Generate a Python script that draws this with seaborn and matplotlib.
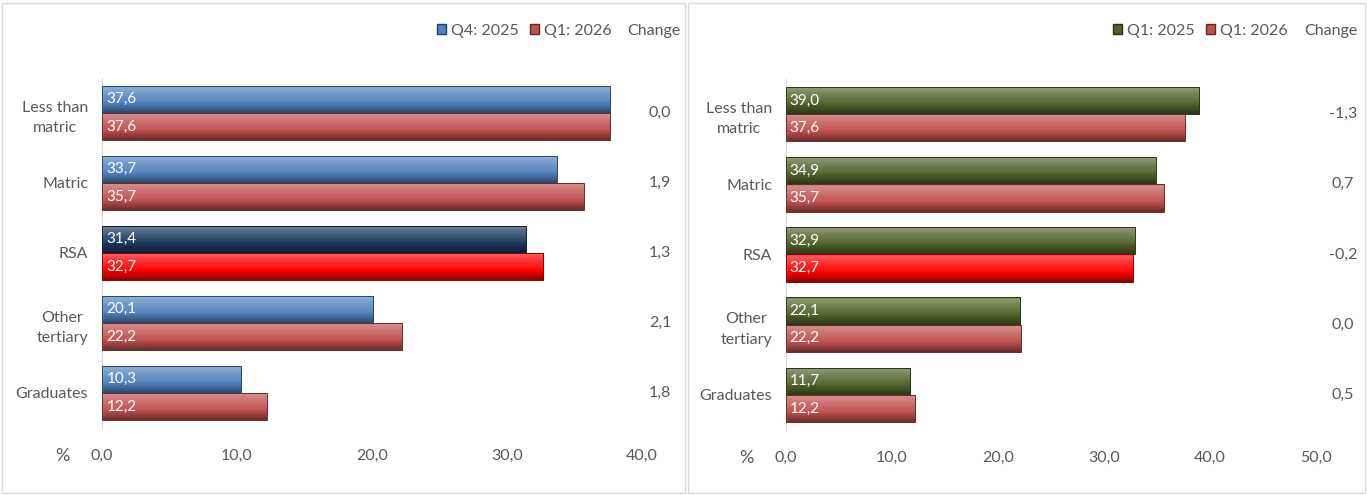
import numpy as np
import pandas as pd
import matplotlib
matplotlib.use("Agg")
import matplotlib.pyplot as plt
import matplotlib.colors as mcolors
from matplotlib.patches import Rectangle, Patch
import seaborn as sns

categories = ["Less than\nmatric", "Matric", "RSA", "Other\ntertiary", "Graduates"]
left_series = ["Q4: 2025", "Q1: 2026"]
left_prev = [37.6, 33.7, 31.4, 20.1, 10.3]
left_curr = [37.6, 35.7, 32.7, 22.2, 12.2]
left_change = ["0,0", "1,9", "1,3", "2,1", "1,8"]
left_ticks = [0, 10, 20, 30, 40]

right_series = ["Q1: 2025", "Q1: 2026"]
right_prev = [39.0, 34.9, 32.9, 22.1, 11.7]
right_curr = [37.6, 35.7, 32.7, 22.2, 12.2]
right_change = ["-1,3", "0,7", "-0,2", "0,0", "0,5"]
right_ticks = [0, 10, 20, 30, 40, 50]

sns.set_theme(style="white")
FONT = ["Lato", "DejaVu Sans"]
plt.rcParams["font.family"] = FONT
GREY = "#595959"

fig = plt.figure(figsize=(13.67, 4.95), dpi=100)

def fmt(v):
    return f"{v:.1f}".replace(".", ",")

def shade(color, f):
    c = np.array(mcolors.to_rgb(color))
    if f >= 0:
        return c + (1 - c) * f
    return c * (1 + f)

def gradient_bar(ax, bar, color):
    x0, y0 = bar.get_x(), bar.get_y()
    w, h = bar.get_width(), bar.get_height()
    n = 64
    t = np.linspace(0, 1, n)
    prof = np.interp(t, [0, 0.08, 0.3, 0.6, 0.85, 1.0], [0.1, 0.35, 0.2, 0.05, -0.25, -0.45])
    img = np.array([shade(color, p) for p in prof]).reshape(n, 1, 3)
    im = ax.imshow(img, extent=(x0, x0 + w, y0 + h, y0), origin="upper",
                   aspect="auto", zorder=2, interpolation="bilinear")
    im.set_clip_path(bar)
    bar.set_edgecolor(shade(color, -0.45))
    bar.set_linewidth(0.7)
    bar.set_zorder(3)
    bar.set_facecolor("none")

def panel(rect, prev, curr, series, colors, rsa_colors, ticks, change, change_x, legend_anchor, change_label_x):
    ax = fig.add_axes(rect)
    df = pd.DataFrame({
        "cat": categories * 2,
        "val": prev + curr,
        "series": [series[0]] * 5 + [series[1]] * 5,
    })
    sns.barplot(data=df, y="cat", x="val", hue="series", palette=colors,
                orient="h", width=0.78, ax=ax, legend=False, saturation=1)
    xlim = (ticks[0], ticks[-1])
    for k, cont in enumerate(ax.containers):
        for i, bar in enumerate(cont):
            col = rsa_colors[k] if i == 2 else colors[k]
            gradient_bar(ax, bar, col)
            ax.text(0.35 * (ticks[1] - ticks[0]) / 10, bar.get_y() + bar.get_height() / 2,
                    fmt(bar.get_width()), color="white", fontsize=11,
                    va="center", ha="left", zorder=5)
    ax.set_xlim(*xlim)
    ax.set_ylim(4.5, -0.5)
    ax.set_xticks(ticks)
    ax.set_xticklabels([fmt(t) for t in ticks], color=GREY, fontsize=11.5)
    ax.set_yticks(range(5))
    ax.set_yticklabels(categories, color=GREY, fontsize=11.5, multialignment="center",
                       linespacing=1.6)
    ax.tick_params(axis="x", pad=15, length=0)
    ax.tick_params(axis="y", pad=10, length=0)
    ax.set_xlabel("")
    ax.set_ylabel("")
    for s in ["top", "right", "bottom"]:
        ax.spines[s].set_visible(False)
    ax.spines["left"].set_color("#D9D9D9")
    ax.spines["left"].set_linewidth(0.8)
    ax.text(-40 / rect[2] / 1367, -0.08, "%", transform=ax.transAxes, color=GREY, fontsize=13,
            ha="center", va="center")
    for i, c in enumerate(change):
        ax.text(change_x, i, c, color=GREY, fontsize=11.5, ha="center", va="center",
                transform=ax.get_yaxis_transform(), clip_on=False)
    handles = [Patch(facecolor=colors[0], edgecolor=shade(colors[0], -0.5)),
               Patch(facecolor=colors[1], edgecolor=shade(colors[1], -0.5))]
    fig.legend(handles, series, loc="center right", bbox_to_anchor=legend_anchor,
               ncol=2, frameon=False, fontsize=11.5, handlelength=0.6, handleheight=0.6,
               handletextpad=0.3, columnspacing=0.7, labelcolor=GREY, borderpad=0,
               borderaxespad=0)
    fig.text(change_label_x, 1 - 31 / 495, "Change", color=GREY, fontsize=11.5,
             ha="center", va="center")
    return ax

panel([102 / 1367, 1 - 428 / 495, 540 / 1367, 350 / 495],
      left_prev, left_curr, left_series, ["#4F81BD", "#C0504D"], ["#17375E", "#FF0000"],
      left_ticks, left_change, (660 - 102) / 540, (612 / 1367, 1 - 31 / 495), 654 / 1367)
panel([786 / 1367, 1 - 430 / 495, 530 / 1367, 351 / 495],
      right_prev, right_curr, right_series, ["#4F6228", "#C0504D"], ["#4F6228", "#FF0000"],
      right_ticks, right_change, (1343 - 786) / 530, (1288 / 1367, 1 - 31 / 495), 1331 / 1367)

for x0, x1 in [(2, 685), (688, 1365)]:
    fig.patches.append(Rectangle((x0 / 1367, 2 / 495), (x1 - x0) / 1367, 490 / 495,
                                 transform=fig.transFigure, fill=False,
                                 edgecolor="#D9D9D9", linewidth=1))

fig.savefig("out.png", dpi=100)
